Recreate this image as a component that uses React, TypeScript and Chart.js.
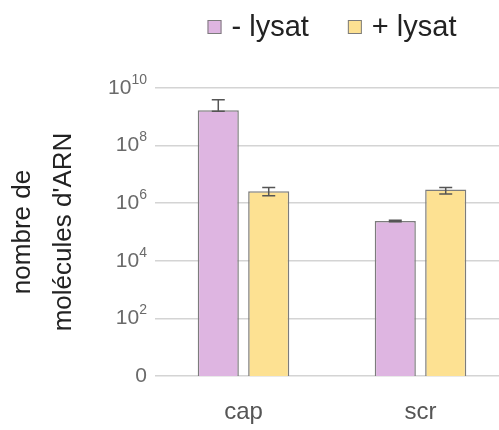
import React, { useEffect, useRef } from "react";
import { Chart, registerables } from "chart.js";

Chart.register(...registerables);

const categories = ["cap", "scr"];
const seriesLabels = ["- lysat", "+ lysat"];
const minusLysat = [1.7e9, 2.4e5];
const plusLysat = [2.6e6, 3.0e6];
const minusHigh = [3.9e9, 2.55e5];
const minusLow = [1.55e9, 2.25e5];
const plusHigh = [3.5e6, 3.5e6];
const plusLow = [1.8e6, 2.1e6];
const yTickValues = [1, 1e2, 1e4, 1e6, 1e8, 1e10];
const yTickExponents = ["", "2", "4", "6", "8", "10"];
const yTitle = ["nombre de", "molécules d'ARN"];

const FONT = '"Liberation Sans", Arial, Helvetica, sans-serif';
const PINK = "#DEB5E1";
const YELLOW = "#FDE192";
const BORDER = "#7c7c7c";

const errorBars = {
  id: "errorBars",
  afterDatasetsDraw(chart: any) {
    const ctx = chart.ctx;
    const yScale = chart.scales.y;
    const highs = [minusHigh, plusHigh];
    const lows = [minusLow, plusLow];
    ctx.save();
    ctx.strokeStyle = "#555555";
    ctx.lineWidth = 1.5;
    chart.data.datasets.forEach((_: any, i: number) => {
      const meta = chart.getDatasetMeta(i);
      meta.data.forEach((el: any, j: number) => {
        const x = el.x;
        const yh = yScale.getPixelForValue(highs[i][j]);
        const yl = yScale.getPixelForValue(lows[i][j]);
        const cw = 6.5;
        ctx.beginPath();
        ctx.moveTo(x, yh);
        ctx.lineTo(x, yl);
        ctx.moveTo(x - cw, yh);
        ctx.lineTo(x + cw, yh);
        ctx.moveTo(x - cw, yl);
        ctx.lineTo(x + cw, yl);
        ctx.stroke();
      });
    });
    ctx.restore();
  },
};

const yLabels = {
  id: "yLabels",
  afterDraw(chart: any) {
    const ctx = chart.ctx;
    const yScale = chart.scales.y;
    const right = chart.chartArea.left - 8;
    ctx.save();
    ctx.fillStyle = "#6a6a6a";
    ctx.textBaseline = "middle";
    yTickValues.forEach((v, i) => {
      const y = yScale.getPixelForValue(v);
      const exp = yTickExponents[i];
      if (!exp) {
        ctx.font = `21px ${FONT}`;
        ctx.textAlign = "right";
        ctx.fillText("0", right, y);
        return;
      }
      ctx.font = `14px ${FONT}`;
      const ew = ctx.measureText(exp).width;
      ctx.textAlign = "left";
      ctx.fillText(exp, right - ew, y - 8);
      ctx.font = `21px ${FONT}`;
      ctx.textAlign = "right";
      ctx.fillText("10", right - ew, y);
    });
    ctx.restore();
  },
};

const legendPlugin = {
  id: "customLegend",
  afterDraw(chart: any) {
    const ctx = chart.ctx;
    const colors = [PINK, YELLOW];
    const box = 14;
    const gap = 10;
    const itemGap = 39;
    ctx.save();
    ctx.font = `29px ${FONT}`;
    const widths = seriesLabels.map((l) => box + gap + ctx.measureText(l).width);
    const total = widths.reduce((a, b) => a + b, 0) + itemGap * (widths.length - 1);
    const cx = (chart.chartArea.left + chart.chartArea.right) / 2;
    let x = cx - total / 2;
    const y = 27;
    seriesLabels.forEach((l, i) => {
      ctx.fillStyle = colors[i];
      ctx.fillRect(x, y - box / 2, box, box);
      ctx.strokeStyle = BORDER;
      ctx.lineWidth = 1;
      ctx.strokeRect(x + 0.5, y - box / 2 + 0.5, box - 1, box - 1);
      ctx.fillStyle = "#222222";
      ctx.textAlign = "left";
      ctx.textBaseline = "middle";
      ctx.fillText(l, x + box + gap, y + 1);
      x += widths[i] + itemGap;
    });
    ctx.restore();
  },
};

export default function App() {
  const ref = useRef<HTMLCanvasElement>(null);
  useEffect(() => {
    if (!ref.current) return;
    const chart = new Chart(ref.current, {
      type: "bar",
      data: {
        labels: categories,
        datasets: [
          {
            label: seriesLabels[0],
            data: minusLysat,
            backgroundColor: PINK,
            borderColor: BORDER,
            borderWidth: 1.5,
            categoryPercentage: 0.57,
            barPercentage: 0.815,
          },
          {
            label: seriesLabels[1],
            data: plusLysat,
            backgroundColor: YELLOW,
            borderColor: BORDER,
            borderWidth: 1.5,
            categoryPercentage: 0.57,
            barPercentage: 0.815,
          },
        ],
      },
      options: {
        responsive: false,
        animation: false,
        layout: { padding: { top: 88, right: 11, bottom: 0, left: 0 } },
        plugins: {
          legend: { display: false },
          tooltip: { enabled: false },
        },
        scales: {
          x: {
            grid: { display: false, drawTicks: false },
            border: { display: false },
            ticks: {
              color: "#555555",
              font: { family: FONT, size: 24 },
              padding: 22,
            },
            afterFit(scale: any) {
              scale.height = 54;
            },
          },
          y: {
            type: "logarithmic",
            min: 1,
            max: 1e10,
            border: { display: false },
            grid: { color: "#d4d4d4", lineWidth: 1.5, drawTicks: false },
            ticks: { display: false },
            afterBuildTicks(scale: any) {
              scale.ticks = yTickValues.map((v) => ({ value: v }));
            },
            afterFit(scale: any) {
              scale.width = 155;
            },
            title: {
              display: true,
              text: yTitle,
              color: "#222222",
              font: { family: FONT, size: 26, lineHeight: 1.55 },
              padding: { top: 3, bottom: 0 },
            },
          },
        },
      },
      plugins: [errorBars, yLabels, legendPlugin],
    });
    return () => chart.destroy();
  }, []);
  return (
    <div
      style={{
        position: "fixed",
        left: 0,
        top: 0,
        width: 499,
        height: 430,
        overflow: "hidden",
        background: "#ffffff",
      }}
    >
      <canvas ref={ref} width={520} height={430} style={{ display: "block" }} />
    </div>
  );
}
